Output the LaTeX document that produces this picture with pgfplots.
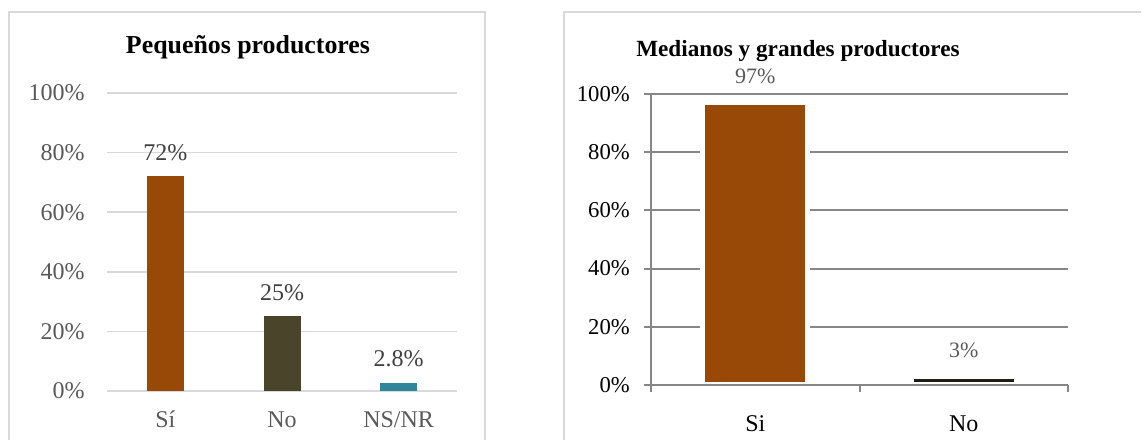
\documentclass[border=0pt]{standalone}
\usepackage{pgfplots}
\pgfplotsset{compat=1.18}
\usepackage{fontspec}
\setmainfont{Liberation Serif}

\definecolor{brownbar}{HTML}{984807}
\definecolor{olivebar}{HTML}{4A452A}
\definecolor{tealbar}{HTML}{31859C}
\definecolor{darkbar}{HTML}{1D1D14}
\definecolor{lightgrid}{HTML}{D9D9D9}
\definecolor{midgray}{HTML}{868686}
\definecolor{labelgray}{HTML}{595959}
\definecolor{valuegray}{HTML}{404040}
\definecolor{framegray}{HTML}{D9D9D9}

% bars below the axis lines, but above the grid
\pgfplotsset{
  layers/bars under axis/.define layer set={
    axis background,axis grid,main,axis ticks,axis lines,axis tick labels,axis descriptions,axis foreground
  }{/pgfplots/layers/standard},
}

\begin{document}
\begin{tikzpicture}[x=1pt,y=1pt]
% page extent
\path (0,0) rectangle (856.5,330.75);
% panel frames
\draw[framegray, line width=1.2pt] (6.75,0.6) -- (6.75,321.75) -- (363.75,321.75) -- (363.75,0.6);
\draw[framegray, line width=1.2pt] (423,0.6) -- (423,321.75) -- (855.9,321.75);

% titles
\node[anchor=base, inner sep=0pt, font=\bfseries\fontsize{19.4}{22}\selectfont] at (186,290.25) {Pequeños productores};
\node[anchor=base west, inner sep=0pt, font=\bfseries\fontsize{17.4}{20}\selectfont] at (477,288) {Medianos y grandes productores};

% small producers
\begin{axis}[
  at={(80.25pt,37.5pt)}, anchor=south west,
  scale only axis, width=262.5pt, height=223.5pt,
  xmin=-0.5, xmax=2.5, ymin=0, ymax=100,
  axis line style={draw=none},
  ytick={0,20,40,60,80,100},
  yticklabels={0\%,20\%,40\%,60\%,80\%,100\%},
  xtick={0,1,2}, xticklabels={Sí,No,NS/NR},
  major tick length=0pt,
  ymajorgrids, grid style={lightgrid, line width=1.2pt},
  tick label style={labelgray, font=\fontsize{18}{21}\selectfont},
  yticklabel style={anchor=east, inner sep=0pt, xshift=-16.5pt},
  xticklabel style={anchor=base, inner sep=0pt, yshift=-27.75pt},
  ybar, bar width=27.75pt,
  nodes near coords, point meta=explicit symbolic,
  every node near coord/.append style={anchor=base, inner sep=0pt, yshift=12pt, text=valuegray, font=\fontsize{18}{21}\selectfont},
]
\addplot[bar shift=0pt, fill=brownbar, draw=none] coordinates {(0,72) [72\%]};
\addplot[bar shift=0pt, fill=olivebar, draw=none] coordinates {(1,25) [25\%]};
\addplot[bar shift=0pt, fill=tealbar, draw=none] coordinates {(2,2.8) [2.8\%]};
\end{axis}

% medium and large producers
\begin{axis}[
  at={(488.25pt,42pt)}, anchor=south west,
  scale only axis, width=312.75pt, height=218.25pt,
  set layers=bars under axis,
  xmin=-0.5, xmax=1.5, ymin=0, ymax=100,
  axis x line*=bottom, axis y line*=left,
  axis line style={midgray, line width=1.5pt},
  ytick={0,20,40,60,80,100},
  yticklabels={0\%,20\%,40\%,60\%,80\%,100\%},
  xtick={-0.5,0.5,1.5}, xticklabels={Si,No}, x tick label as interval,
  tick align=outside, major tick length=5.25pt,
  tick style={midgray, line width=1.5pt},
  ymajorgrids, grid style={midgray, line width=1.5pt},
  tick label style={black, font=\fontsize{17}{20}\selectfont},
  yticklabel style={anchor=east, inner sep=0pt, xshift=-10.5pt},
  xticklabel style={anchor=base, inner sep=0pt, yshift=-30pt, font=\fontsize{18}{21}\selectfont},
  ybar, bar width=78.75pt,
  nodes near coords, point meta=explicit symbolic,
  every node near coord/.append style={anchor=base, inner sep=0pt, yshift=14.25pt, text=labelgray, font=\fontsize{16.5}{19}\selectfont},
]
\addplot[bar shift=0pt, fill=brownbar, draw=white, line width=3.75pt] coordinates {(0,97) [97\%]};
\addplot[bar shift=0pt, fill=darkbar, draw=white, line width=3.75pt] coordinates {(1,3) [3\%]};
\end{axis}
\end{tikzpicture}
\end{document}
